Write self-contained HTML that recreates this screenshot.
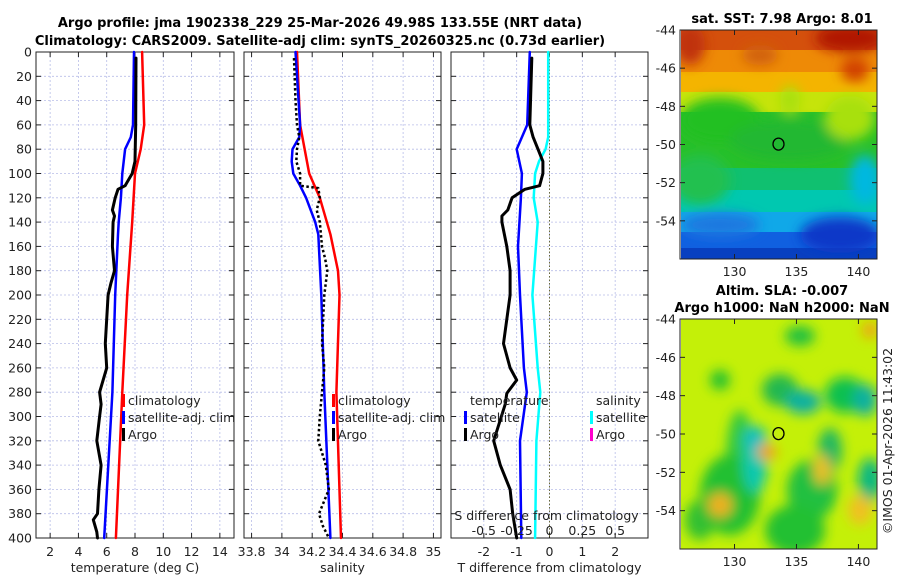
<!DOCTYPE html>
<html><head><meta charset="utf-8"><style>
body{margin:0;background:#fff;}
svg{display:block;font-family:"DejaVu Sans","Liberation Sans",sans-serif;}
.t{font-size:12.5px;fill:#222;}
.b{font-size:13px;font-weight:bold;fill:#000;}
</style></head><body>
<svg id="c" width="900" height="580" viewBox="0 0 900 580">
<defs>
<filter id="bl" x="-20%" y="-20%" width="140%" height="140%"><feGaussianBlur stdDeviation="6"/></filter>
<clipPath id="m1c"><rect x="681" y="30" width="196" height="229"/></clipPath>
<clipPath id="m2c"><rect x="681" y="319" width="196" height="230"/></clipPath>
</defs>
<g>
<text class="b" x="320" y="27" text-anchor="middle">Argo profile: jma 1902338_229 25-Mar-2026 49.98S 133.55E (NRT data)</text>
<text class="b" x="320" y="45" text-anchor="middle">Climatology: CARS2009. Satellite-adj clim: synTS_20260325.nc (0.73d earlier)</text>
</g>
<g id="maps"></g>
<g id="plots"></g>
<text class="t" transform="translate(892,441) rotate(-90)" text-anchor="middle">©IMOS 01-Apr-2026 11:43:02</text>
</svg>
<script>
// ---- data (depth in dbar) ----
const depthTicks=[0,20,40,60,80,100,120,140,160,180,200,220,240,260,280,300,320,340,360,380,400];
const tempTicks=[2,4,6,8,10,12,14];
const salTicks=[33.8,34,34.2,34.4,34.6,34.8,35];
const salTickLabels=["33.8","34","34.2","34.4","34.6","34.8","35"];
const tdTicks=[-2,-1,0,1,2];
const sdTicks=[-0.5,-0.25,0,0.25,0.5];
const sdTickLabels=["-0.5","-0.25","0","0.25","0.5"];
const latTicks=[-44,-46,-48,-50,-52,-54];
const lonTicks=[130,135,140];

const climDepth=[0,60,80,100,140,200,280,400];
const climTemp=[8.5,8.65,8.4,8.0,7.8,7.45,7.1,6.65];
const clim2Depth=[0,60,100,120,150,180,200,280,400];
const climSal2=[34.1,34.12,34.18,34.25,34.32,34.37,34.38,34.36,34.39];

const satDepth=[0,60,70,80,90,100,110,120,140,150,200,280,400];
const satTemp=[7.93,7.86,7.7,7.3,7.2,7.1,7.05,7.0,6.85,6.8,6.6,6.4,5.82];
const satSal=[34.09,34.12,34.115,34.07,34.065,34.075,34.12,34.16,34.22,34.24,34.26,34.28,34.32];

const argoDepth=[5,60,90,100,110,113,120,130,135,140,160,180,190,200,240,260,280,290,300,320,340,360,380,385,395,400];
const argoTemp=[8.07,8.05,8.0,7.8,7.3,6.8,6.6,6.4,6.55,6.45,6.4,6.55,6.3,6.1,5.9,6.0,5.5,5.6,5.5,5.3,5.6,5.45,5.35,5.05,5.3,5.35];
const argoSalDepth=[5,40,60,70,80,90,100,110,112,120,130,140,160,170,180,200,240,260,280,300,320,340,360,380,390,400];
const argoSal=[34.08,34.09,34.1,34.115,34.1,34.095,34.12,34.12,34.24,34.25,34.23,34.25,34.265,34.285,34.3,34.28,34.265,34.28,34.265,34.25,34.24,34.29,34.31,34.245,34.27,34.31];

const tdSatDepth=[0,60,80,100,120,160,200,260,280,320,400];
const tdSat=[-0.6,-0.68,-1.0,-0.84,-0.87,-0.96,-0.9,-0.78,-0.69,-0.9,-0.86];
const tdArgoDepth=[5,60,70,80,90,100,110,113,120,130,135,140,160,180,200,240,260,270,281,290,320,340,360,380,400];
const tdArgo=[-0.54,-0.6,-0.5,-0.35,-0.2,-0.2,-0.3,-0.75,-1.14,-1.27,-1.45,-1.45,-1.3,-1.2,-1.2,-1.4,-1.2,-1.0,-1.3,-1.35,-1.7,-1.5,-1.2,-1.12,-1.0];
const sdSatDepth=[0,70,80,90,100,120,140,200,260,280,320,400];
const sdSat=[-0.01,-0.01,-0.03,-0.08,-0.11,-0.12,-0.09,-0.13,-0.09,-0.07,-0.1,-0.11];

// ---- helpers ----
const NS="http://www.w3.org/2000/svg";
function mk(p,tag,a){const e=document.createElementNS(NS,tag);for(const k in a)e.setAttribute(k,a[k]);p.appendChild(e);return e;}
const Y0=52,Y1=538;
const yD=d=>Y0+(d/400)*(Y1-Y0);
function lin(d0,d1,r0,r1){return v=>r0+(v-d0)/(d1-d0)*(r1-r0);}
const plots=document.getElementById('plots');

function panel(name,x0,x1,xs,xt,xlabels,title,yLabels){
  const g=mk(plots,'g',{});
  
  
  const grid=mk(g,'g',{stroke:'#b8bde8','stroke-width':0.8,'stroke-dasharray':'2,2'});
  
  
  depthTicks.forEach(d=>mk(grid,'line',{x1:x0,x2:x1,y1:yD(d),y2:yD(d)}));
  xt.forEach(v=>mk(grid,'line',{x1:xs(v),x2:xs(v),y1:Y0,y2:Y1}));
  const ax=mk(g,'g',{stroke:'#222','stroke-width':1});
  
  
  mk(ax,'rect',{x:x0,y:Y0,width:x1-x0,height:Y1-Y0,fill:'none'});
  depthTicks.forEach(d=>{mk(ax,'line',{x1:x0,x2:x0+5,y1:yD(d),y2:yD(d)});mk(ax,'line',{x1:x1-5,x2:x1,y1:yD(d),y2:yD(d)});});
  xt.forEach(v=>{mk(ax,'line',{x1:xs(v),x2:xs(v),y1:Y1,y2:Y1-5});mk(ax,'line',{x1:xs(v),x2:xs(v),y1:Y0,y2:Y0+5});});
  xt.forEach((v,i)=>{const t=mk(g,'text',{class:'t',x:xs(v),y:Y1+18,'text-anchor':'middle'});t.textContent=xlabels[i];
    
    });
  const tt=mk(g,'text',{class:'t',x:(x0+x1)/2,y:572,'text-anchor':'middle'});tt.textContent=title;
  
  
  if(yLabels){depthTicks.forEach(d=>{const t=mk(g,'text',{class:'t',x:x0-4,y:yD(d)+4.5,'text-anchor':'end'});t.textContent=d;
    
    });}
  return g;
}
function line(g,name,xs,xv,dv,color,w,dash){
  const pts=xv.map((v,i)=>xs(v).toFixed(1)+','+yD(dv[i]).toFixed(1)).join(' ');
  const p=mk(g,'polyline',{points:pts,fill:'none',stroke:color,'stroke-width':w,'stroke-linejoin':'round','stroke-linecap':dash?'butt':'round'});
  if(dash)p.setAttribute('stroke-dasharray',dash);
  
  
}
function legend(g,name,x,y,color,label){
  const lg=mk(g,'g',{});
  
  
  mk(lg,'rect',{x:x-6,y:y-11,width:3,height:13,fill:color});
  const t=mk(lg,'text',{class:'t',x:x,y:y});t.textContent=label;
}

// panel 1: temperature
const xT=lin(1,15,36,234);
const p1=panel('temperature-panel',36,234,xT,tempTicks,tempTicks.map(String),'temperature (deg C)',true);
line(p1,'temp-climatology-line',xT,climTemp,climDepth,'#ff0000',2.5);
line(p1,'temp-satellite-line',xT,satTemp,satDepth,'#0000ff',2.5);
line(p1,'temp-argo-line',xT,argoTemp,argoDepth,'#000',3);
legend(p1,'legend-climatology',128,405,'#ff0000','climatology');
legend(p1,'legend-satellite-adj',128,422,'#0000ff','satellite-adj. clim');
legend(p1,'legend-argo',128,439,'#000','Argo');

// panel 2: salinity
const xS=lin(33.75,35.05,244,441);
const p2=panel('salinity-panel',244,441,xS,salTicks,salTickLabels,'salinity',false);
line(p2,'sal-climatology-line',xS,climSal2,clim2Depth,'#ff0000',2.5);
line(p2,'sal-satellite-line',xS,satSal,satDepth,'#0000ff',2.5);
line(p2,'sal-argo-line',xS,argoSal,argoSalDepth,'#000',2.5,'2.5,2.5');
legend(p2,'legend-sal-climatology',338,405,'#ff0000','climatology');
legend(p2,'legend-sal-satellite-adj',338,422,'#0000ff','satellite-adj. clim');
legend(p2,'legend-sal-argo',338,439,'#000','Argo');

// panel 3: differences
const xTD=lin(-3,3,451,648);
const xSD=lin(-0.75,0.75,451,648);
const p3=panel('difference-panel',451,648,xTD,tdTicks,tdTicks.map(String),'T difference from climatology',false);
const zl=mk(p3,'line',{x1:xTD(0),x2:xTD(0),y1:Y0,y2:Y1,stroke:'#6b6b3a','stroke-width':1,'stroke-dasharray':'1.5,2'});


line(p3,'sdiff-satellite-line',xSD,sdSat,sdSatDepth,'#00ffff',2.5);
line(p3,'tdiff-satellite-line',xTD,tdSat,tdSatDepth,'#0000ff',2.5);
line(p3,'tdiff-argo-line',xTD,tdArgo,tdArgoDepth,'#000',3);
{const t=mk(p3,'text',{class:'t',x:470,y:405});t.textContent='temperature';


const s=mk(p3,'text',{class:'t',x:596,y:405});s.textContent='salinity';

}
legend(p3,'legend-tdiff-satellite',470,422,'#0000ff','satellite');
legend(p3,'legend-tdiff-argo',470,439,'#000','Argo');
legend(p3,'legend-sdiff-satellite',596,422,'#00ffff','satellite');
legend(p3,'legend-sdiff-argo',596,439,'#ff00cc','Argo');
{const t=mk(p3,'text',{class:'t',x:xTD(0)-3,y:520,'text-anchor':'middle'});t.textContent='S difference from climatology';


sdTicks.forEach((v,i)=>{const l=mk(p3,'text',{class:'t',x:xSD(v),y:535,'text-anchor':'middle'});l.textContent=sdTickLabels[i];

});}

// ---- maps ----
const maps=document.getElementById('maps');
function mapAxes(name,top,bottom,titles){
  const g=mk(maps,'g',{});
  
  
  const la=lin(-44,-56,top,bottom), lo=lin(125.6,141.5,680,877);
  mk(g,'rect',{x:680,y:top,width:197,height:bottom-top,fill:'none',stroke:'#222','stroke-width':1});
  latTicks.forEach(v=>{mk(g,'line',{x1:680,x2:685,y1:la(v),y2:la(v),stroke:'#222'});mk(g,'line',{x1:872,x2:877,y1:la(v),y2:la(v),stroke:'#222'});
    const t=mk(g,'text',{class:'t',x:676,y:la(v)+4.5,'text-anchor':'end'});t.textContent=v;});
  lonTicks.forEach(v=>{mk(g,'line',{x1:lo(v),x2:lo(v),y1:bottom,y2:bottom-5,stroke:'#222'});mk(g,'line',{x1:lo(v),x2:lo(v),y1:top,y2:top+5,stroke:'#222'});
    const t=mk(g,'text',{class:'t',x:lo(v),y:bottom+17,'text-anchor':'middle'});t.textContent=v;});
  titles.forEach((s,i)=>{const t=mk(g,'text',{class:'b',x:782,y:top-(titles.length-1-i)*17-7,'text-anchor':'middle'});t.textContent=s;});
  mk(g,'ellipse',{cx:lo(133.55),cy:la(-49.98),rx:5.5,ry:6,fill:'none',stroke:'#000','stroke-width':1.3});
  return {la,lo};
}
// SST map
{const g=mk(maps,'g',{'clip-path':'url(#m1c)'});


const bands=[[30,'#d4500c'],[50,'#ee8a06'],[72,'#f4b400'],[92,'#c6e40a'],[112,'#28c028'],[168,'#10c070'],[190,'#00c8b0'],[212,'#10a8e8'],[232,'#1060e0'],[248,'#0840c0']];
bands.forEach((b,i)=>mk(g,'rect',{x:681,y:b[0],width:196,height:(i<bands.length-1?bands[i+1][0]:262)-b[0]+1,fill:b[1]}));
const bf=mk(g,'g',{filter:'url(#bl)'});
[[850,38,35,14,'#b01800'],[690,45,15,20,'#c03010'],[760,55,18,10,'#d06010'],[855,70,14,12,'#d04000'],[720,120,40,22,'#20c020'],[790,140,60,20,'#20b830'],[850,118,25,22,'#a8e010'],[790,100,10,14,'#a8e010'],[700,180,30,25,'#20c050'],[720,225,40,12,'#1a78e0'],[840,235,40,18,'#0838c8'],[865,180,15,25,'#00b8e0']].forEach(e=>mk(bf,'ellipse',{cx:e[0],cy:e[1],rx:e[2],ry:e[3],fill:e[4]}));
}
mapAxes('sst-map',30,259,['sat. SST: 7.98 Argo: 8.01']);
// SLA map
{const g=mk(maps,'g',{'clip-path':'url(#m2c)'});


mk(g,'rect',{x:681,y:319,width:196,height:231,fill:'#c4f008'});
const bf=mk(g,'g',{filter:'url(#bl)'});
[[740,460,14,50,'#30c840'],[730,495,30,40,'#20c030'],[780,390,18,16,'#20b850'],[803,402,18,12,'#10b0a0'],[755,465,12,28,'#10c8b0'],[812,490,25,30,'#20c040'],[795,530,30,25,'#20c030'],[830,450,12,22,'#20b860'],[845,395,20,18,'#10c050'],[865,400,12,16,'#10b0a0'],[870,480,12,22,'#10b880'],[720,380,10,10,'#20c030'],[700,520,15,20,'#30c030'],[800,336,15,10,'#20c040'],[755,440,12,14,'#10c0c0'],[767,452,10,8,'#f0a010'],[822,470,8,15,'#f0c020'],[860,510,12,15,'#f0c020'],[720,505,12,12,'#f0b020'],[870,330,8,8,'#f0a010']].forEach(e=>mk(bf,'ellipse',{cx:e[0],cy:e[1],rx:e[2],ry:e[3],fill:e[4]}));
}
mapAxes('sla-map',319,549,['Altim. SLA: -0.007','Argo h1000: NaN h2000: NaN']);
</script>
</body></html>
